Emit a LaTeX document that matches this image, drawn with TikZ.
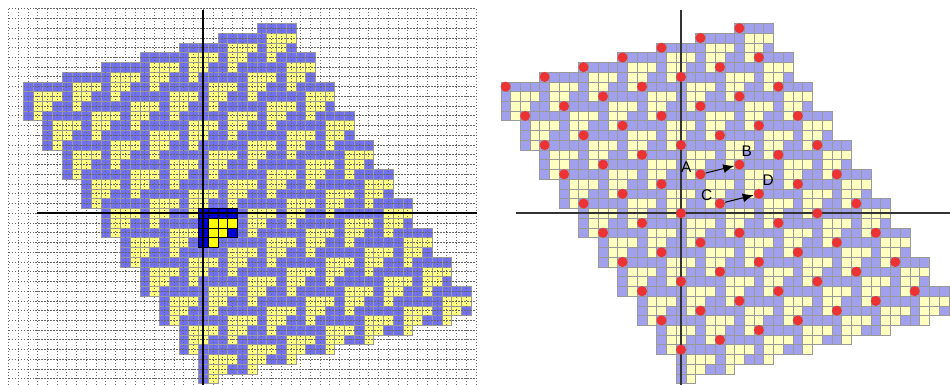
\documentclass[tikz,border=0pt]{standalone}
\usepackage{fontspec}
\setmainfont{Liberation Sans}
\usetikzlibrary{positioning,arrows.meta}
\definecolor{lblue}{RGB}{112,112,240}
\definecolor{lyellow}{RGB}{255,255,128}
\definecolor{dblue}{RGB}{0,0,210}
\definecolor{dyellow}{RGB}{255,255,0}
\definecolor{rblue}{RGB}{160,160,236}
\definecolor{ryellow}{RGB}{255,255,192}
\definecolor{dotred}{RGB}{236,50,50}
% cells of the prototile, (column/row) from its top-left cell
\newcommand\bluecells{0/0,1/0,2/0,3/0,0/1,0/2,0/3,3/2}
\newcommand\yellowcells{1/1,2/1,3/1,1/2,2/2,1/3}

\begin{document}
\begin{tikzpicture}[
  x=0.5pt, y=-0.5pt,
  font=\fontsize{7.7}{9}\selectfont,
  cellu/.style={x=4.87pt, y=-4.87pt},
  cellbox/.style={draw=black!40, line width=0.3pt},
  lbcell/.style={cellbox, fill=lblue},
  lycell/.style={cellbox, fill=lyellow},
  dbcell/.style={draw=black, line width=0.4pt, fill=dblue},
  dycell/.style={dbcell, fill=dyellow},
  rbcell/.style={cellbox, fill=rblue},
  rycell/.style={cellbox, fill=ryellow},
  dgrid/.style={black!60, line width=0.45pt, dash pattern=on 0.6pt off 0.9pt},
  axisline/.style={black, line width=1pt},
  rdot/.style={circle, fill=dotred, minimum size=5pt, inner sep=0pt},
  vec/.style={-{Latex[length=5.5pt, width=4.5pt]}, line width=0.5pt},
  lbl/.style={inner sep=0.5pt}
]
\useasboundingbox (0,0) rectangle (950,385);
% ----- left panel: tiling on the square grid -----
\begin{scope}[shift={(203.3,213.3)}, cellu]
  \foreach \a in {-2,...,4}{\foreach \b in {-5,...,4}{
    \begin{scope}[shift={({4*\a+2*\b}, {3*\b-\a})}]
      \foreach \u/\v in \bluecells {\draw[lbcell] ({\u-0.5},{\v-0.5}) rectangle ++(1,1);}
      \foreach \u/\v in \yellowcells {\draw[lycell] ({\u-0.5},{\v-0.5}) rectangle ++(1,1);}
    \end{scope}}}
  % dotted grid through the cell centres
  \foreach \i in {-20,...,28}{\draw[dgrid] (\i,-21) -- (\i,17.7);}
  \foreach \j in {-21,...,17}{\draw[dgrid] (-20,\j) -- (28,\j);}
  % the prototile
  \foreach \u/\v in \bluecells {\draw[dbcell] ({\u-0.5},{\v-0.5}) rectangle ++(1,1);}
  \foreach \u/\v in \yellowcells {\draw[dycell] ({\u-0.5},{\v-0.5}) rectangle ++(1,1);}
  \draw[axisline] (0,-20.9) -- (0,17.7);
  \draw[axisline] (-17.1,0) -- (28.1,0);
\end{scope}
% ----- right panel: same tiling with the lattice points -----
\begin{scope}[shift={(681,213.3)}, cellu]
  \foreach \a in {-2,...,4}{\foreach \b in {-5,...,4}{
    \begin{scope}[shift={({4*\a+2*\b}, {3*\b-\a})}]
      \foreach \u/\v in \bluecells {\draw[rbcell] ({\u-0.5},{\v-0.5}) rectangle ++(1,1);}
      \foreach \u/\v in \yellowcells {\draw[rycell] ({\u-0.5},{\v-0.5}) rectangle ++(1,1);}
    \end{scope}}}
  \draw[axisline, black!80] (0,-20.9) -- (0,17.7);
  \draw[axisline, black!80] (-16.9,0) -- (27.7,0);
  \foreach \a in {-2,...,4}{\foreach \b in {-5,...,4}{
    \node[rdot] (dot\a_\b) at ({4*\a+2*\b}, {3*\b-\a}) {};}}
  \node[lbl] (labA) at ([shift={(-1.47,-0.73)}]dot1_-1) {A};
  \node[lbl] (labB) at ([shift={(0.74,-1.4)}]dot2_-1) {B};
  \node[lbl] (labC) at ([shift={(-1.36,-0.85)}]dot1_0) {C};
  \node[lbl] (labD) at ([shift={(0.96,-1.39)}]dot2_0) {D};
  \draw[vec] (dot1_-1) -- (dot2_-1);
  \draw[vec] (dot1_0) -- (dot2_0);
\end{scope}
\end{tikzpicture}
\end{document}
